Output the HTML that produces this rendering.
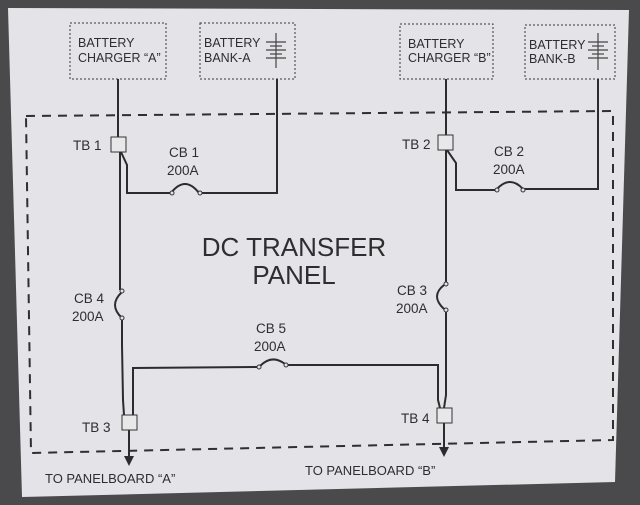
<!DOCTYPE html>
<html><head><style>
html,body{margin:0;padding:0;width:640px;height:505px;overflow:hidden;background:#4d4d4f}
svg{display:block}
text{font-family:"Liberation Sans",sans-serif;fill:#2e2e30}
</style></head><body>
<svg width="640" height="505" viewBox="0 0 640 505" xmlns="http://www.w3.org/2000/svg">
<rect width="640" height="505" fill="#4a4a4c"/>
<polygon points="8,8 629,10 615,482 22,497" fill="#e4e4e8"/>
<g fill="none" stroke="#38383a" stroke-width="1" stroke-dasharray="2,2">
<rect x="70" y="23" width="96" height="56"/>
<rect x="200" y="23" width="95" height="56"/>
<rect x="400" y="24" width="93" height="55"/>
<rect x="525" y="25" width="90" height="54"/>
</g>
<g fill="none" stroke="#2f2f31" stroke-width="2" stroke-dasharray="9,7">
<polyline points="26,116 613,111 613,440 31,453 26,116"/>
</g>
<g font-size="12.5">
<text x="78" y="47">BATTERY</text><text x="78" y="62">CHARGER “A”</text>
<text x="204" y="47">BATTERY</text><text x="204" y="62">BANK-A</text>
<text x="408" y="48">BATTERY</text><text x="408" y="62">CHARGER “B”</text>
<text x="529" y="49">BATTERY</text><text x="529" y="63">BANK-B</text>
</g>
<!-- battery symbols -->
<g stroke="#444" stroke-width="1.2">
<line x1="276" y1="33" x2="276" y2="68"/>
<line x1="266" y1="42" x2="286" y2="42"/><line x1="270" y1="46" x2="282" y2="46"/>
<line x1="266" y1="50" x2="286" y2="50"/><line x1="270" y1="54" x2="282" y2="54"/>
<line x1="266" y1="58" x2="286" y2="58"/>
<line x1="598" y1="33" x2="598" y2="70"/>
<line x1="588" y1="42" x2="608" y2="42"/><line x1="592" y1="46" x2="604" y2="46"/>
<line x1="588" y1="50" x2="608" y2="50"/><line x1="592" y1="54" x2="604" y2="54"/>
<line x1="588" y1="58" x2="608" y2="58"/>
</g>
<g fill="none" stroke="#2c2c2e" stroke-width="2">
<!-- A side -->
<line x1="118" y1="79" x2="118" y2="137"/>
<polyline points="120,152 120,290"/>
<polyline points="121,152 127,165 127,193 171,193"/>
<path d="M171,193 Q185,175 199,193"/>
<polyline points="201,193 277,193 277,79"/>
<path d="M122,292 Q108,305 122,318"/>
<polyline points="122,320 122,345 123,400 124,415"/>
<polyline points="133,416 133,368 257,367"/>
<path d="M260,366 Q272,354 285,364"/>
<polyline points="287,365 438,365 438,400 440,408"/>
<line x1="129" y1="430" x2="129" y2="458"/>
<!-- B side -->
<line x1="446" y1="79" x2="446" y2="135"/>
<polyline points="446,150 446,283"/>
<polyline points="447,150 456,163 456,190 496,190"/>
<path d="M497,189 Q510,175 523,189"/>
<polyline points="524,189 598,189 598,79"/>
<path d="M444,285 Q430,296 444,309"/>
<polyline points="446,311 446,395 444,408"/>
<line x1="444" y1="422" x2="444" y2="449"/>
</g>
<g fill="#e4e4e8" stroke="#333" stroke-width="1">
<circle cx="172" cy="193" r="2"/><circle cx="200" cy="193" r="2"/>
<circle cx="497" cy="190" r="2"/><circle cx="523" cy="190" r="2"/>
<circle cx="122" cy="291" r="2"/><circle cx="122" cy="318" r="2"/>
<circle cx="446" cy="284" r="2"/><circle cx="446" cy="310" r="2"/>
<circle cx="259" cy="367" r="2"/><circle cx="286" cy="365" r="2"/>
<rect x="111" y="137" width="15" height="15" fill="#e8e8eb"/>
<rect x="438" y="135" width="15" height="15" fill="#e8e8eb"/>
<rect x="122" y="415" width="15" height="15" fill="#e8e8eb"/>
<rect x="437" y="408" width="15" height="15" fill="#e8e8eb"/>
</g>
<polygon points="124,456 134,456 129,466" fill="#2c2c2e"/>
<polygon points="439,447 449,447 444,457" fill="#2c2c2e"/>
<g font-size="13.5">
<text x="73" y="150">TB 1</text>
<text x="169" y="157">CB 1</text><text x="167" y="175">200A</text>
<text x="402" y="149">TB 2</text>
<text x="494" y="156">CB 2</text><text x="493" y="174">200A</text>
<text x="74" y="303">CB 4</text><text x="72" y="321">200A</text>
<text x="397" y="295">CB 3</text><text x="396" y="313">200A</text>
<text x="256" y="333">CB 5</text><text x="254" y="351">200A</text>
<text x="82" y="432">TB 3</text>
<text x="401" y="423">TB 4</text>
<text x="45" y="483" font-size="13">TO PANELBOARD “A”</text>
<text x="305" y="475" font-size="13">TO PANELBOARD “B”</text>
</g>
<text x="294" y="256" font-size="26" text-anchor="middle">DC TRANSFER</text>
<text x="294" y="284" font-size="26" text-anchor="middle">PANEL</text>
</svg>
</body></html>
